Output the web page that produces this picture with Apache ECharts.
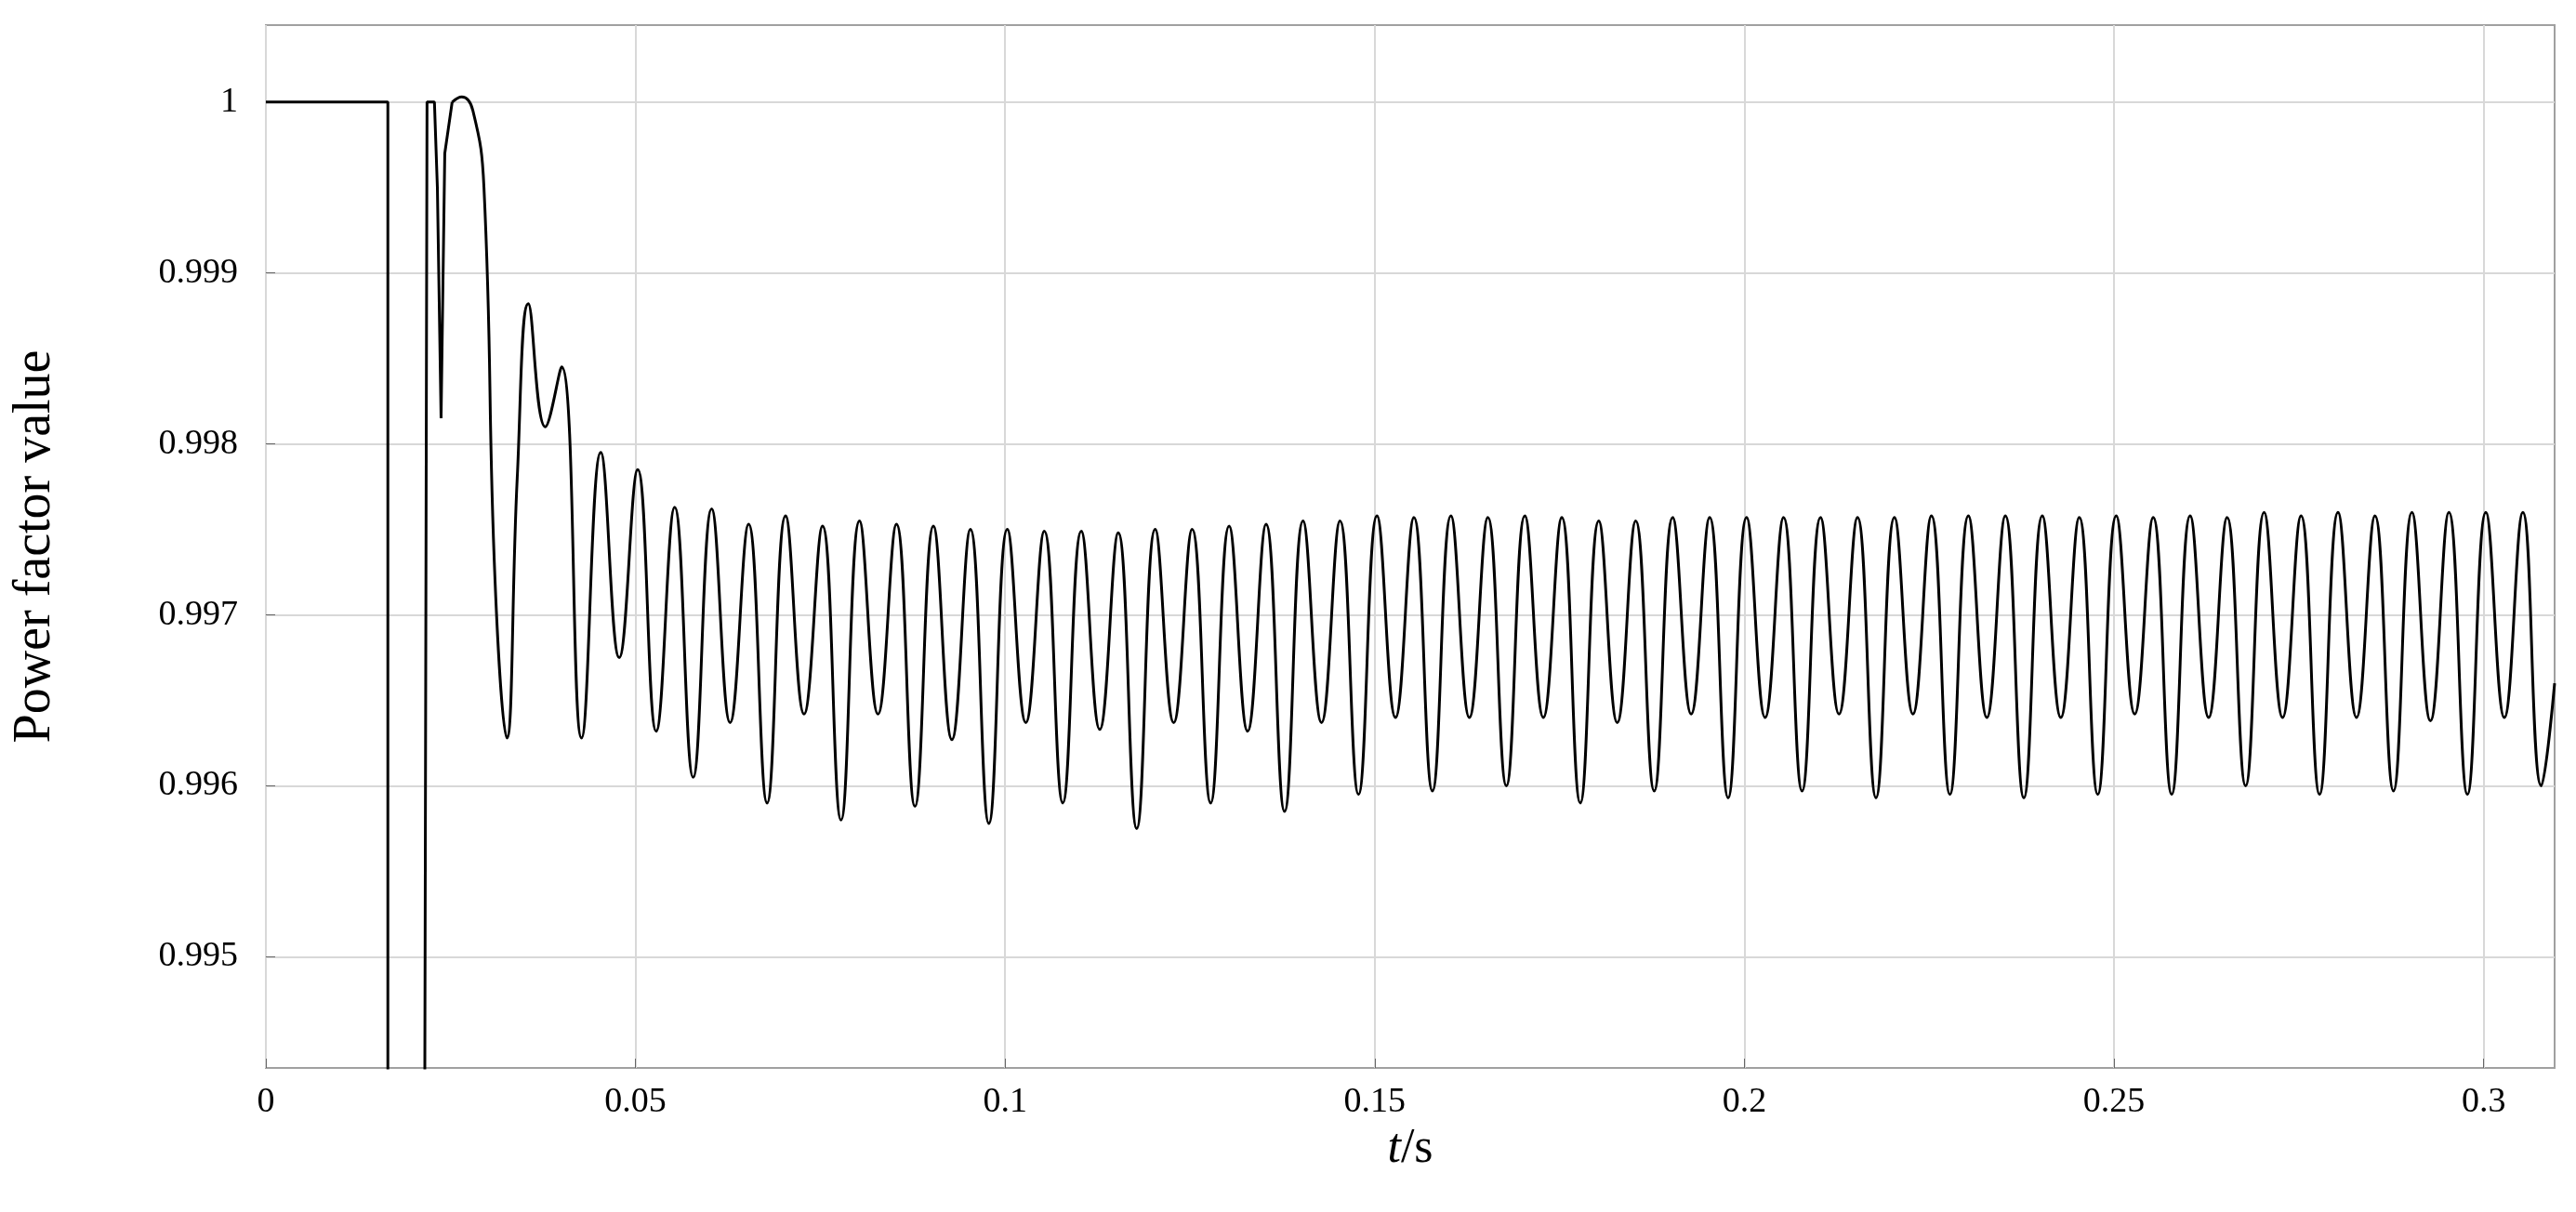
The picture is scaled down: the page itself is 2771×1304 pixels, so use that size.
<!DOCTYPE html>
<html>
<head>
<meta charset="utf-8">
<script src="https://cdn.jsdelivr.net/npm/echarts@6/dist/echarts.min.js"></script>
<style>html,body{margin:0;padding:0;background:#fff}#chart{width:2771px;height:1304px}</style>
</head>
<body>
<div id="chart"></div>
<script>
// start-up transient, drawn with straight segments
const timeStart = [0, 0.0165, 0.0165, 0.0215, 0.0218, 0.0228, 0.0232, 0.0237, 0.0242, 0.0252];
const pfStart = [1, 1, 0.9943, 0.9943, 1, 1, 0.9995, 0.99815, 0.9997, 1];

// oscillating part, extrema
const timeSteady = [0.0252, 0.0265, 0.028, 0.0295, 0.031, 0.0326, 0.034, 0.0355, 0.0378, 0.0400,
  0.0427, 0.0453, 0.0478, 0.0503, 0.0528, 0.0553, 0.0578, 0.0603, 0.0628, 0.0653,
  0.0678, 0.0703, 0.0728, 0.0753, 0.0778, 0.0803, 0.0828, 0.0853, 0.0878, 0.0903,
  0.0928, 0.0953, 0.0978, 0.1003, 0.1028, 0.1053, 0.1078, 0.1103, 0.1128, 0.1153,
  0.1178, 0.1203, 0.1228, 0.1253, 0.1278, 0.1303, 0.1328, 0.1353, 0.1378, 0.1403,
  0.1428, 0.1453, 0.1478, 0.1503, 0.1528, 0.1553, 0.1578, 0.1603, 0.1628, 0.1653,
  0.1678, 0.1703, 0.1728, 0.1753, 0.1778, 0.1803, 0.1828, 0.1853, 0.1878, 0.1903,
  0.1928, 0.1953, 0.1978, 0.2003, 0.2028, 0.2053, 0.2078, 0.2103, 0.2128, 0.2153,
  0.2178, 0.2203, 0.2228, 0.2253, 0.2278, 0.2303, 0.2328, 0.2353, 0.2378, 0.2403,
  0.2428, 0.2453, 0.2478, 0.2503, 0.2528, 0.2553, 0.2578, 0.2603, 0.2628, 0.2653,
  0.2678, 0.2703, 0.2728, 0.2753, 0.2778, 0.2803, 0.2828, 0.2853, 0.2878, 0.2903,
  0.2928, 0.2953, 0.2978, 0.3003, 0.3028, 0.3053, 0.3078, 0.3096];
const pfSteady = [1, 1.00003, 0.99995, 0.9995, 0.9972, 0.99628, 0.9978, 0.99882, 0.9981, 0.99845,
  0.99628, 0.99795, 0.99675, 0.99785, 0.99632, 0.99763, 0.99605, 0.99762, 0.99637, 0.99753,
  0.9959, 0.99758, 0.99642, 0.99752, 0.9958, 0.99755, 0.99642, 0.99753, 0.99588, 0.99752,
  0.99627, 0.9975, 0.99578, 0.9975, 0.99637, 0.99749, 0.9959, 0.99749, 0.99633, 0.99748,
  0.99575, 0.9975, 0.99637, 0.9975, 0.9959, 0.99752, 0.99632, 0.99753, 0.99585, 0.99755,
  0.99637, 0.99755, 0.99595, 0.99758, 0.9964, 0.99757, 0.99597, 0.99758, 0.9964, 0.99757,
  0.996, 0.99758, 0.9964, 0.99757, 0.9959, 0.99755, 0.99637, 0.99755, 0.99597, 0.99757,
  0.99642, 0.99757, 0.99593, 0.99757, 0.9964, 0.99757, 0.99597, 0.99757, 0.99642, 0.99757,
  0.99593, 0.99757, 0.99642, 0.99758, 0.99595, 0.99758, 0.9964, 0.99758, 0.99593, 0.99758,
  0.9964, 0.99757, 0.99595, 0.99758, 0.99642, 0.99757, 0.99595, 0.99758, 0.9964, 0.99757,
  0.996, 0.9976, 0.9964, 0.99758, 0.99595, 0.9976, 0.9964, 0.99758, 0.99597, 0.9976,
  0.99638, 0.9976, 0.99595, 0.9976, 0.9964, 0.9976, 0.996, 0.9966];

const xTicks = [0, 0.05, 0.1, 0.15, 0.2, 0.25, 0.3];
const yTicks = [0.995, 0.996, 0.997, 0.998, 0.999, 1];

const font = '"Liberation Serif", "DejaVu Serif", serif';
const chart = echarts.init(document.getElementById('chart'));
chart.setOption({
  animation: false,
  grid: {
    left: 286, right: 23, top: 27, bottom: 155,
    show: true, borderColor: '#a0a0a0', borderWidth: 2,
  },
  xAxis: {
    type: 'value', min: 0, max: 0.3096,
    name: '{i|t}/s', nameLocation: 'middle', nameGap: 60,
    nameTextStyle: { fontFamily: font, fontSize: 52, color: '#000', rich: { i: { fontStyle: 'italic', fontFamily: font, fontSize: 52 } } },
    axisLine: { show: false },
    axisTick: { customValues: xTicks, inside: true, length: 10, lineStyle: { color: '#666' } },
    axisLabel: { customValues: xTicks, fontFamily: font, fontSize: 38, color: '#000', margin: 18,
      formatter: (v) => String(+v.toFixed(2)) },
    splitLine: { show: true, lineStyle: { color: '#d8d8d8', width: 2 } },
  },
  yAxis: {
    type: 'value', min: 0.99435, max: 1.00045,
    name: 'Power factor value', nameLocation: 'middle', nameGap: 220,
    nameTextStyle: { fontFamily: font, fontSize: 56, color: '#000' },
    axisLine: { show: false },
    axisTick: { customValues: yTicks, inside: true, length: 10, lineStyle: { color: '#666' } },
    axisLabel: { customValues: yTicks, fontFamily: font, fontSize: 38, color: '#000', margin: 30,
      formatter: (v) => (Math.abs(v - 1) < 1e-9 ? '1' : v.toFixed(3)) },
    splitLine: { show: true, lineStyle: { color: '#d8d8d8', width: 2 } },
  },
  series: [{
    type: 'line', showSymbol: false, clip: true,
    lineStyle: { color: '#000', width: 3 },
    data: timeStart.map((t, i) => [t, pfStart[i]]),
  }, {
    type: 'line', showSymbol: false, smooth: 0.45, clip: true,
    lineStyle: { color: '#000', width: 3 },
    data: timeSteady.map((t, i) => [t, pfSteady[i]]),
  }],
});
</script>
</body>
</html>
